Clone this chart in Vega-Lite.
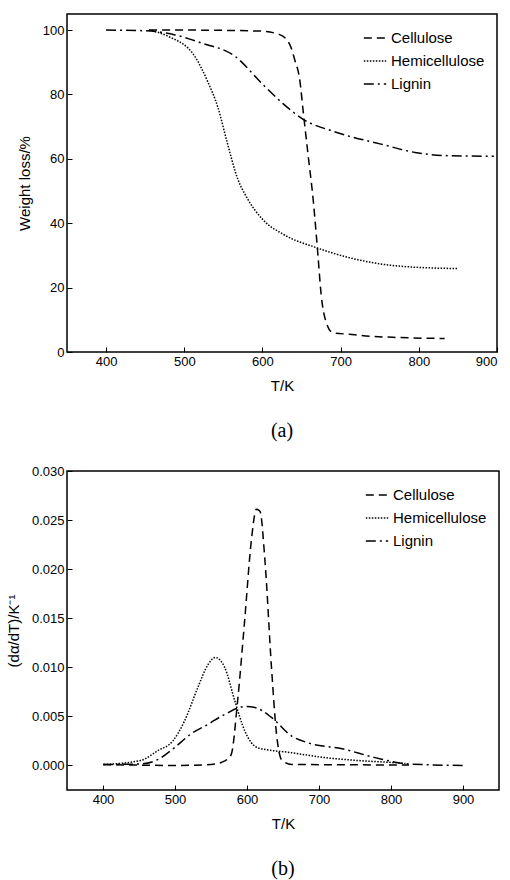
{
  "$schema": "https://vega.github.io/schema/vega-lite/v6.json",
  "background": "white",
  "padding": {"left": 5, "top": 13, "right": 8, "bottom": 5},
  "spacing": 22,
  "resolve": {"legend": {"strokeDash": "independent"}},
  "config": {
    "font": "Liberation Sans",
    "view": {"stroke": "black", "strokeWidth": 1.5},
    "axis": {"grid": false, "domain": false, "tickColor": "black", "tickSize": -5, "labelColor": "black", "labelFontSize": 13, "titleFontSize": 15, "titleFontWeight": "normal", "titleColor": "black", "labelPadding": 8, "titlePadding": 10},
    "title": {"font": "Liberation Serif", "fontSize": 20, "fontWeight": "normal", "orient": "bottom", "offset": 28},
    "legend": {"orient": "top-right", "title": null, "symbolType": "stroke", "symbolStrokeColor": "black", "symbolStrokeWidth": 1.5, "symbolSize": 500, "labelFontSize": 15, "labelColor": "black", "rowPadding": 3, "offset": 12}
  },
  "datasets": {
    "tg": [
      {"T": 455, "w": 100, "s": "Cellulose"},
      {"T": 500, "w": 100, "s": "Cellulose"},
      {"T": 597, "w": 99.7, "s": "Cellulose"},
      {"T": 622, "w": 98.6, "s": "Cellulose"},
      {"T": 635, "w": 95.5, "s": "Cellulose"},
      {"T": 641, "w": 91, "s": "Cellulose"},
      {"T": 648, "w": 84, "s": "Cellulose"},
      {"T": 652, "w": 75, "s": "Cellulose"},
      {"T": 658, "w": 62, "s": "Cellulose"},
      {"T": 665, "w": 47, "s": "Cellulose"},
      {"T": 671, "w": 30, "s": "Cellulose"},
      {"T": 675, "w": 18, "s": "Cellulose"},
      {"T": 681, "w": 9.6, "s": "Cellulose"},
      {"T": 690, "w": 6, "s": "Cellulose"},
      {"T": 711, "w": 5.5, "s": "Cellulose"},
      {"T": 732, "w": 5, "s": "Cellulose"},
      {"T": 774, "w": 4.5, "s": "Cellulose"},
      {"T": 833, "w": 4.2, "s": "Cellulose"},
      {"T": 455, "w": 100, "s": "Hemicellulose"},
      {"T": 480, "w": 98, "s": "Hemicellulose"},
      {"T": 513, "w": 92, "s": "Hemicellulose"},
      {"T": 530, "w": 84, "s": "Hemicellulose"},
      {"T": 543, "w": 76, "s": "Hemicellulose"},
      {"T": 555, "w": 65, "s": "Hemicellulose"},
      {"T": 568, "w": 54, "s": "Hemicellulose"},
      {"T": 580, "w": 48, "s": "Hemicellulose"},
      {"T": 601, "w": 41, "s": "Hemicellulose"},
      {"T": 627, "w": 36.5, "s": "Hemicellulose"},
      {"T": 669, "w": 32.4, "s": "Hemicellulose"},
      {"T": 711, "w": 29.3, "s": "Hemicellulose"},
      {"T": 774, "w": 26.7, "s": "Hemicellulose"},
      {"T": 850, "w": 25.9, "s": "Hemicellulose"},
      {"T": 400, "w": 100, "s": "Lignin"},
      {"T": 450, "w": 99.8, "s": "Lignin"},
      {"T": 488, "w": 98.5, "s": "Lignin"},
      {"T": 522, "w": 96, "s": "Lignin"},
      {"T": 564, "w": 92, "s": "Lignin"},
      {"T": 601, "w": 83, "s": "Lignin"},
      {"T": 627, "w": 77, "s": "Lignin"},
      {"T": 652, "w": 72.3, "s": "Lignin"},
      {"T": 690, "w": 68.6, "s": "Lignin"},
      {"T": 753, "w": 64.5, "s": "Lignin"},
      {"T": 795, "w": 62, "s": "Lignin"},
      {"T": 837, "w": 61, "s": "Lignin"},
      {"T": 896, "w": 60.8, "s": "Lignin"}
    ],
    "dtg": [
      {"T": 400, "r": 0.0001, "s": "Cellulose"},
      {"T": 500, "r": 0.0, "s": "Cellulose"},
      {"T": 550, "r": 0.0001, "s": "Cellulose"},
      {"T": 570, "r": 0.0005, "s": "Cellulose"},
      {"T": 578, "r": 0.0011, "s": "Cellulose"},
      {"T": 587, "r": 0.0066, "s": "Cellulose"},
      {"T": 597, "r": 0.015, "s": "Cellulose"},
      {"T": 606, "r": 0.0229, "s": "Cellulose"},
      {"T": 613, "r": 0.0261, "s": "Cellulose"},
      {"T": 618, "r": 0.0259, "s": "Cellulose"},
      {"T": 625, "r": 0.0208, "s": "Cellulose"},
      {"T": 634, "r": 0.010, "s": "Cellulose"},
      {"T": 641, "r": 0.0032, "s": "Cellulose"},
      {"T": 648, "r": 0.0006, "s": "Cellulose"},
      {"T": 662, "r": 0.0001, "s": "Cellulose"},
      {"T": 825, "r": 0.00005, "s": "Cellulose"},
      {"T": 401, "r": 0.0001, "s": "Hemicellulose"},
      {"T": 452, "r": 0.0005, "s": "Hemicellulose"},
      {"T": 476, "r": 0.0015, "s": "Hemicellulose"},
      {"T": 497, "r": 0.0025, "s": "Hemicellulose"},
      {"T": 513, "r": 0.0045, "s": "Hemicellulose"},
      {"T": 532, "r": 0.008, "s": "Hemicellulose"},
      {"T": 546, "r": 0.0103, "s": "Hemicellulose"},
      {"T": 556, "r": 0.011, "s": "Hemicellulose"},
      {"T": 569, "r": 0.010, "s": "Hemicellulose"},
      {"T": 583, "r": 0.0066, "s": "Hemicellulose"},
      {"T": 597, "r": 0.0035, "s": "Hemicellulose"},
      {"T": 615, "r": 0.0018, "s": "Hemicellulose"},
      {"T": 662, "r": 0.0013, "s": "Hemicellulose"},
      {"T": 708, "r": 0.0008, "s": "Hemicellulose"},
      {"T": 755, "r": 0.0005, "s": "Hemicellulose"},
      {"T": 801, "r": 0.0003, "s": "Hemicellulose"},
      {"T": 820, "r": 0.0002, "s": "Hemicellulose"},
      {"T": 400, "r": 0.0001, "s": "Lignin"},
      {"T": 452, "r": 0.00015, "s": "Lignin"},
      {"T": 476, "r": 0.0006, "s": "Lignin"},
      {"T": 499, "r": 0.0018, "s": "Lignin"},
      {"T": 522, "r": 0.0032, "s": "Lignin"},
      {"T": 546, "r": 0.0042, "s": "Lignin"},
      {"T": 569, "r": 0.0052, "s": "Lignin"},
      {"T": 597, "r": 0.006, "s": "Lignin"},
      {"T": 611, "r": 0.0059, "s": "Lignin"},
      {"T": 634, "r": 0.0049, "s": "Lignin"},
      {"T": 662, "r": 0.003, "s": "Lignin"},
      {"T": 685, "r": 0.0023, "s": "Lignin"},
      {"T": 732, "r": 0.0017, "s": "Lignin"},
      {"T": 778, "r": 0.0008, "s": "Lignin"},
      {"T": 825, "r": 0.00015, "s": "Lignin"},
      {"T": 900, "r": 0.0, "s": "Lignin"}
    ]
  },
  "vconcat": [
    {
      "title": "(a)",
      "width": 430,
      "height": 338,
      "data": {"name": "tg"},
      "mark": {"type": "line", "color": "black", "strokeWidth": 1.5, "interpolate": "monotone"},
      "encoding": {
        "x": {"field": "T", "type": "quantitative", "title": "T/K", "scale": {"domain": [350, 900], "nice": false}, "axis": {"values": [400, 500, 600, 700, 800, 900]}},
        "y": {"field": "w", "type": "quantitative", "title": "Weight loss/%", "scale": {"domain": [0, 105], "nice": false}, "axis": {"values": [0, 20, 40, 60, 80, 100]}},
        "strokeDash": {"field": "s", "type": "nominal", "scale": {"domain": ["Cellulose", "Hemicellulose", "Lignin"], "range": [[8, 5], [1.5, 1.5], [10, 4, 2, 4]]}}
      }
    },
    {
      "title": "(b)",
      "width": 432,
      "height": 319,
      "data": {"name": "dtg"},
      "mark": {"type": "line", "color": "black", "strokeWidth": 1.5, "interpolate": "monotone"},
      "encoding": {
        "x": {"field": "T", "type": "quantitative", "title": "T/K", "scale": {"domain": [350, 950], "nice": false}, "axis": {"values": [400, 500, 600, 700, 800, 900]}},
        "y": {"field": "r", "type": "quantitative", "title": "(dα/dT)/K⁻¹", "scale": {"domain": [-0.0025, 0.03], "nice": false}, "axis": {"values": [0, 0.005, 0.01, 0.015, 0.02, 0.025, 0.03], "format": ".3f"}},
        "strokeDash": {"field": "s", "type": "nominal", "scale": {"domain": ["Cellulose", "Hemicellulose", "Lignin"], "range": [[8, 5], [1.5, 1.5], [10, 4, 2, 4]]}}
      }
    }
  ]
}
